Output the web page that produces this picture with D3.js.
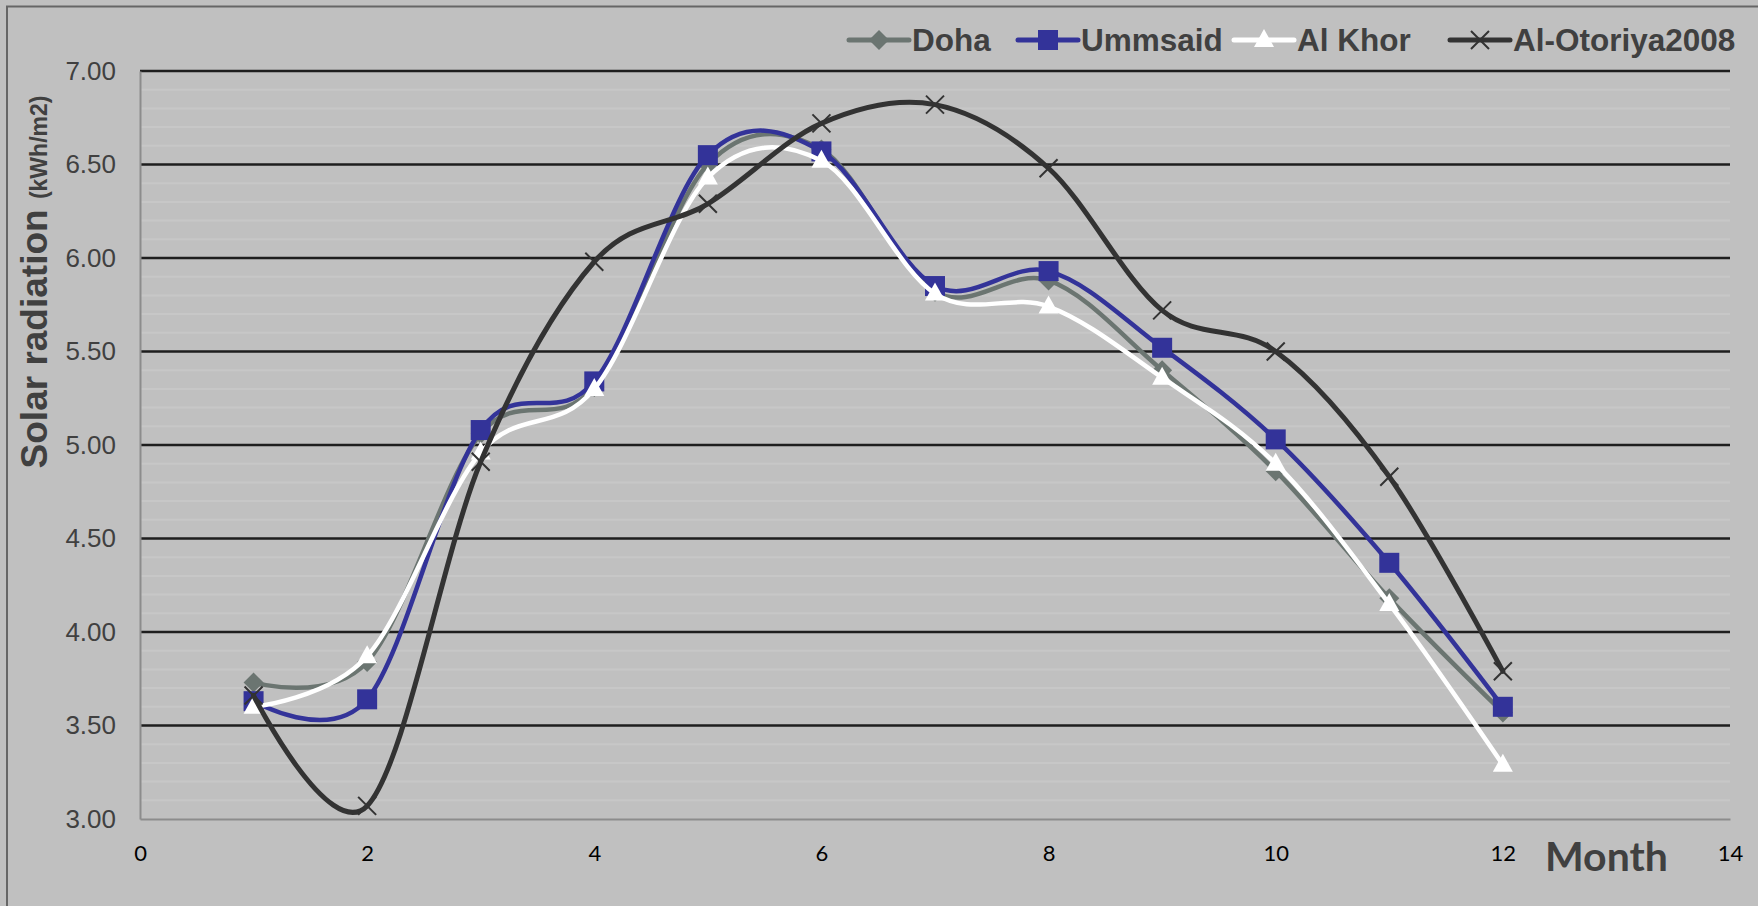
<!DOCTYPE html>
<html>
<head>
<meta charset="utf-8">
<script src="https://cdn.jsdelivr.net/npm/d3@7"></script>
<style>
  html, body { margin: 0; padding: 0; background: #c0c0c0; }
  svg { display: block; }
</style>
</head>
<body>
<div id="chart"></div>
<script>
// Data
const months = [1, 2, 3, 4, 5, 6, 7, 8, 9, 10, 11, 12];
const doha = [3.73, 3.84, 5.06, 5.31, 6.50, 6.58, 5.82, 5.88, 5.40, 4.86, 4.18, 3.57];
const ummsaid = [3.63, 3.64, 5.08, 5.34, 6.55, 6.57, 5.85, 5.93, 5.52, 5.03, 4.37, 3.60];
const alKhor = [3.60, 3.87, 4.96, 5.30, 6.43, 6.52, 5.81, 5.74, 5.36, 4.90, 4.15, 3.29];
const otoriya = [3.66, 3.07, 4.91, 5.98, 6.29, 6.72, 6.82, 6.48, 5.72, 5.50, 4.83, 3.79];
const seriesNames = ['Doha', 'Ummsaid', 'Al Khor', 'Al-Otoriya2008'];
const xTicks = [0, 2, 4, 6, 8, 10, 12, 14];
const yTicks = [3.0, 3.5, 4.0, 4.5, 5.0, 5.5, 6.0, 6.5, 7.0];

const W = 1758, H = 906;
const margin = { top: 71, right: 28, bottom: 87, left: 140 };
const width = W - margin.left - margin.right;
const height = H - margin.top - margin.bottom;

const svg = d3.select('#chart')
  .append('svg')
  .attr('width', W)
  .attr('height', H);

// Chart area background and outer border
svg.append('rect')
  .attr('width', W).attr('height', H)
  .attr('fill', '#c0c0c0');
svg.append('rect')
  .attr('x', 7).attr('y', 6.5)
  .attr('width', W + 20).attr('height', H + 20)
  .attr('fill', 'none')
  .attr('stroke', '#666666')
  .attr('stroke-width', 2);

const g = svg.append('g')
  .attr('transform', `translate(${margin.left},${margin.top})`);

const x = d3.scaleLinear().domain([0, 14]).range([0, width]);
const y = d3.scaleLinear().domain([3, 7]).range([height, 0]);

// faint stripes at 0.1 steps
g.append('g')
  .selectAll('line')
  .data(d3.range(31, 70).map(v => v / 10).filter(v => Math.round(v * 10) % 5 !== 0))
  .enter()
  .append('line')
  .attr('x1', 0).attr('x2', width)
  .attr('y1', d => y(d)).attr('y2', d => y(d))
  .attr('stroke', '#c7c7c7')
  .attr('stroke-width', 2);

// major gridlines
g.append('g')
  .selectAll('line')
  .data(yTicks.slice(1))
  .enter()
  .append('line')
  .attr('x1', 0).attr('x2', width)
  .attr('y1', d => y(d)).attr('y2', d => y(d))
  .attr('stroke', '#1e1e1e')
  .attr('stroke-width', 2.5);

// Y axis
const yAxis = g.append('g')
  .call(d3.axisLeft(y).tickValues(yTicks).tickFormat(d3.format('.2f')).tickSize(0).tickPadding(24));
yAxis.select('.domain').attr('stroke', '#8c8c8c').attr('stroke-width', 2);
yAxis.selectAll('text')
  .attr('fill', '#404040')
  .style('font-family', '"Liberation Sans", Arial, sans-serif')
  .style('font-size', '26px');

// X axis
const xAxis = g.append('g')
  .attr('transform', `translate(0,${height})`)
  .call(d3.axisBottom(x).tickValues(xTicks).tickSize(0).tickPadding(26));
xAxis.select('.domain').attr('stroke', '#8c8c8c').attr('stroke-width', 2);
xAxis.selectAll('text')
  .attr('fill', '#000000')
  .style('font-family', 'Lato, "Open Sans", sans-serif')
  .style('font-size', '22px');

// Axis titles
const yTitle = svg.append('text')
  .attr('transform', 'translate(47,282) rotate(-90)')
  .attr('text-anchor', 'middle')
  .attr('fill', '#404040')
  .style('font-family', '"Liberation Sans", Arial, sans-serif')
  .style('font-weight', 'bold');
yTitle.append('tspan').style('font-size', '37px').text('Solar radiation ');
yTitle.append('tspan').style('font-size', '23px').text('(kWh/m2)');

svg.append('text')
  .attr('x', 1545).attr('y', 871)
  .attr('fill', '#404040')
  .style('font-family', 'Lato, "Open Sans", sans-serif')
  .style('font-weight', 'bold')
  .style('font-size', '41px')
  .text('Month');

// Series styles
const series = [
  { name: seriesNames[0], values: doha, color: '#6b7571', marker: 'diamond' },
  { name: seriesNames[1], values: ummsaid, color: '#333399', marker: 'square' },
  { name: seriesNames[2], values: alKhor, color: '#ffffff', marker: 'triangle' },
  { name: seriesNames[3], values: otoriya, color: '#333333', marker: 'cross' }
];

const line = d3.line()
  .x(d => x(d[0]))
  .y(d => y(d[1]))
  .curve(d3.curveCardinal.tension(0));

function drawMarker(sel, type, color) {
  if (type === 'diamond') {
    sel.append('path').attr('d', 'M0,-10L10,0L0,10L-10,0Z').attr('fill', color);
  } else if (type === 'square') {
    sel.append('rect').attr('x', -10).attr('y', -10).attr('width', 20).attr('height', 20).attr('fill', color);
  } else if (type === 'triangle') {
    sel.append('path').attr('d', 'M0,-11L10,7L-10,7Z').attr('fill', color);
  } else {
    sel.append('path').attr('d', 'M-9,-9L9,9M-9,9L9,-9').attr('stroke', color).attr('stroke-width', 2);
  }
}

series.forEach(s => {
  const pts = months.map((m, i) => [m, s.values[i]]);
  g.append('path')
    .datum(pts)
    .attr('d', line)
    .attr('fill', 'none')
    .attr('stroke', s.color)
    .attr('stroke-width', s.marker === 'cross' ? 5 : 4.5)
    .attr('stroke-linecap', 'round');
  g.selectAll(null)
    .data(pts)
    .enter()
    .append('g')
    .attr('transform', d => `translate(${x(d[0])},${y(d[1])})`)
    .each(function() { drawMarker(d3.select(this), s.marker, s.color); });
});

// Legend
const legendPos = [849, 1018, 1234, 1450];
series.forEach((s, i) => {
  const lg = svg.append('g').attr('transform', `translate(${legendPos[i]},40)`);
  lg.append('line')
    .attr('x1', 0).attr('x2', 60)
    .attr('stroke', s.color)
    .attr('stroke-width', 5)
    .attr('stroke-linecap', 'round');
  const m = lg.append('g').attr('transform', 'translate(30,0)');
  drawMarker(m, s.marker, s.color);
  lg.append('text')
    .attr('x', 63).attr('y', 11)
    .attr('fill', '#404040')
    .style('font-family', '"Liberation Sans", Arial, sans-serif')
    .style('font-weight', 'bold')
    .style('font-size', '31.5px')
    .text(s.name);
});
</script>
</body>
</html>
